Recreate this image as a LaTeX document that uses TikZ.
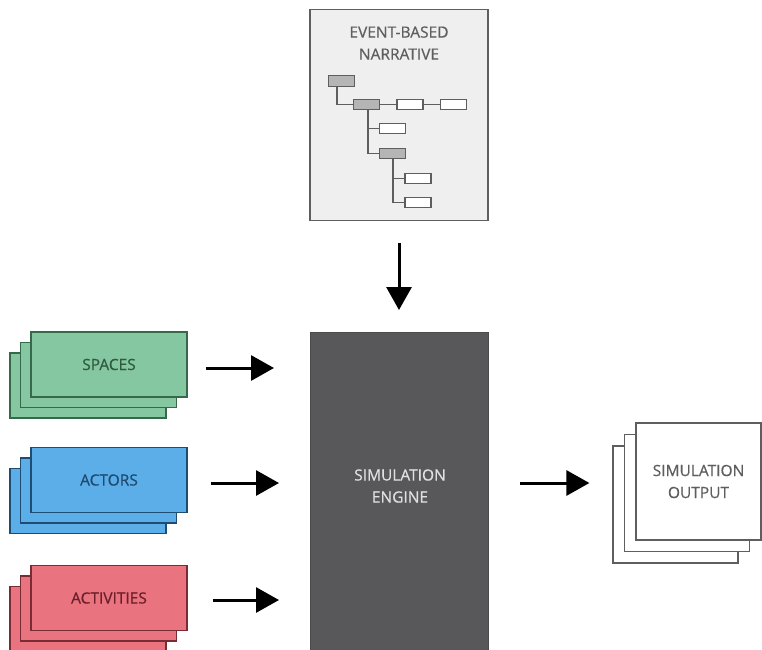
\documentclass[tikz,border=0pt]{standalone}
\usepackage{fontspec}
\setmainfont{Open Sans}
\newfontfamily\lblfont{Open Sans}[FakeBold=0.5]
\usetikzlibrary{arrows.meta}
\definecolor{nbg}{HTML}{EFEFEF}
\definecolor{nline}{HTML}{5E5E5E}
\definecolor{tgray}{HTML}{B5B5B5}
\definecolor{engfill}{HTML}{58585A}
\definecolor{grfill}{HTML}{84C7A0}
\definecolor{grline}{HTML}{36684A}
\definecolor{grtext}{HTML}{2F5A3E}
\definecolor{blfill}{HTML}{5BAEE8}
\definecolor{blline}{HTML}{1F4C72}
\definecolor{bltext}{HTML}{1E4A70}
\definecolor{rdfill}{HTML}{E97480}
\definecolor{rdline}{HTML}{7A2C35}
\definecolor{rdtext}{HTML}{6A1F29}
\tikzset{
  sheet/.style={draw=#1, line width=1.2pt, minimum width=156pt, minimum height=65pt, inner sep=0pt},
  leaf/.style={draw=nline, fill=white, line width=1.4pt, minimum width=26pt, minimum height=10.5pt, inner sep=0pt},
  branch/.style={leaf, fill=tgray},
  treeline/.style={draw=nline, line width=1.4pt},
  flow/.style={line width=3pt, -{Triangle[length=23pt,width=25pt]}},
  lbl/.style={font=\lblfont\fontsize{15.5}{22}\selectfont, align=center},
}
\begin{document}
\begin{tikzpicture}[x=1pt,y=-1pt]
\useasboundingbox (0,0) rectangle (762,649);
\clip (0,0) rectangle (762,649);
\fill[white] (0,0) rectangle (762,649);

% narrative panel
\node[draw=nline, fill=nbg, line width=1.3pt, minimum width=178pt, minimum height=211pt, inner sep=0pt] (narr) at (399,115) {};
\node[lbl, text=nline] (narrtitle) at (399,43) {EVENT-BASED\\NARRATIVE};

% narrative tree
\node[branch] (t0) at (341.5,81) {};
\node[branch] (t1) at (366.5,104.5) {};
\node[leaf] (t2) at (410,104.5) {};
\node[leaf] (t3) at (453.5,104.5) {};
\node[leaf] (t4) at (392.5,128.5) {};
\node[branch] (t5) at (392.5,153.5) {};
\node[leaf] (t6) at (418,178.5) {};
\node[leaf] (t7) at (418,202.5) {};
\draw[treeline] (t0.south -| 337,0) |- (t1.west);
\draw[treeline] (t1) -- (t2) -- (t3);
\draw[treeline] (t1.south -| 368,0) |- (t4.west);
\draw[treeline] (t1.south -| 368,0) |- (t5.west);
\draw[treeline] (t5.south -| 393,0) |- (t6.west);
\draw[treeline] (t5.south -| 393,0) |- (t7.west);

% simulation engine
\node[fill=engfill, draw=engfill!85!black, minimum width=178pt, minimum height=330pt, inner sep=0pt, anchor=north] (engine) at (399,332) {};
\node[lbl, text=white!88!black] (enginetxt) at (400,486) {SIMULATION\\ENGINE};

% input stacks
\foreach \d in {21,10.5} {
  \node[sheet=grline, fill=grfill] at (109-\d,364.5+\d) {};
  \node[sheet=blline, fill=blfill] at (109-\d,480+\d) {};
  \node[sheet=rdline, fill=rdfill] at (109-\d,598+\d) {};
}
\node[sheet=grline, fill=grfill, text=grtext, lbl] (spaces) at (109,364.5) {SPACES};
\node[sheet=blline, fill=blfill, text=bltext, lbl] (actors) at (109,480) {ACTORS};
\node[sheet=rdline, fill=rdfill, text=rdtext, lbl] (activities) at (109,598) {ACTIVITIES};

% output stack
\foreach \d in {23,11.5} {
  \node[draw=nline, fill=white, line width=1.2pt, minimum width=125pt, minimum height=117pt, inner sep=0pt] at (698.5-\d,481.5+\d) {};
}
\node[draw=nline, fill=white, line width=1.2pt, minimum width=125pt, minimum height=117pt, inner sep=0pt, lbl, text=nline] (output) at (698.5,481.5) {SIMULATION\\OUTPUT};

% flow arrows
\draw[flow] ([yshift=-21.5pt]narr.south) -- ([yshift=22pt]engine.north);
\draw[flow] ([xshift=18pt]spaces.east |- 0,368) -- (274,368);
\draw[flow] ([xshift=23pt]actors.east |- 0,483) -- (279,483);
\draw[flow] ([xshift=25pt]activities.east |- 0,600) -- (279,600);
\draw[flow] (520,483) -- ([xshift=-46pt]output.west |- 0,483);
\end{tikzpicture}
\end{document}
